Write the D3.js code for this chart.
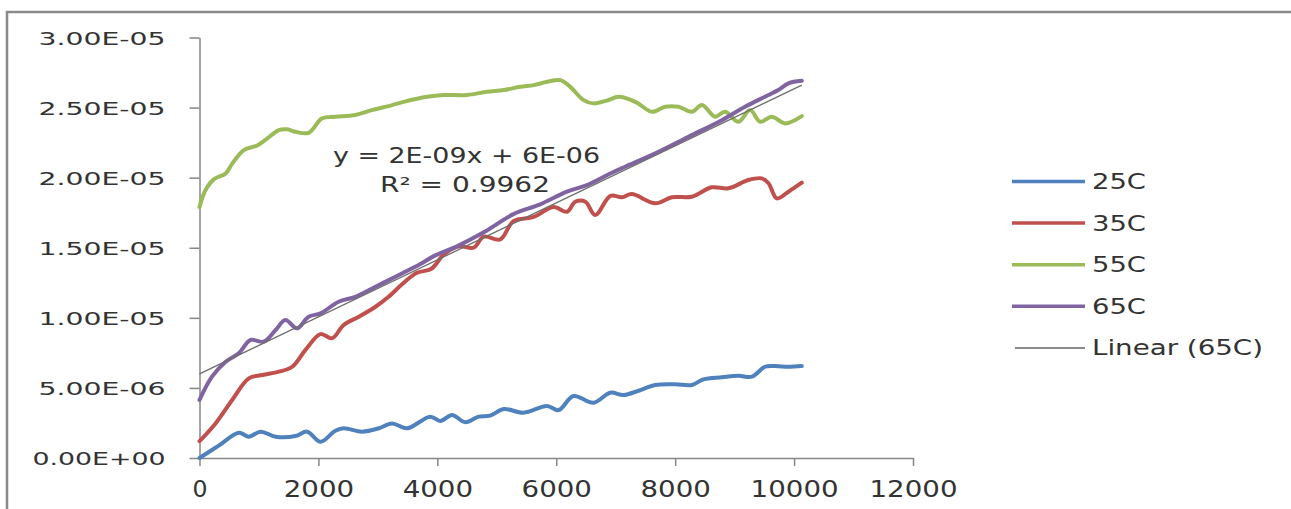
<html>
<head>
<script src="https://d3js.org/d3.v7.min.js"></script>
<style>
  body { margin: 0; background: #fff; }
  text { font-family: "DejaVu Sans", sans-serif; fill: #333; }
</style>
</head>
<body>
<svg width="1291" height="509"></svg>
<script>
var x25 = [0, 330, 660, 830, 1025, 1280, 1615, 1810, 2035, 2285, 2425, 2735, 3015, 3240, 3490, 3880, 4050, 4245, 4470, 4695, 4890, 5115, 5450, 5845, 6040, 6290, 6625, 6910, 7130, 7385, 7665, 8000, 8280, 8475, 8785, 9065, 9290, 9510, 9680, 9905, 10130];
var y25 = [0, 0.9e-6, 1.80e-6, 1.52e-6, 1.88e-6, 1.52e-6, 1.57e-6, 1.88e-6, 1.16e-6, 1.95e-6, 2.12e-6, 1.88e-6, 2.12e-6, 2.47e-6, 2.12e-6, 2.95e-6, 2.64e-6, 3.07e-6, 2.55e-6, 2.95e-6, 3.02e-6, 3.49e-6, 3.23e-6, 3.71e-6, 3.42e-6, 4.42e-6, 3.94e-6, 4.66e-6, 4.49e-6, 4.80e-6, 5.21e-6, 5.26e-6, 5.21e-6, 5.61e-6, 5.76e-6, 5.87e-6, 5.80e-6, 6.51e-6, 6.56e-6, 6.51e-6, 6.56e-6];

var x35 = [0, 270, 550, 830, 1055, 1335, 1560, 1780, 2035, 2230, 2425, 2680, 2960, 3180, 3435, 3650, 3900, 4105, 4360, 4610, 4780, 5060, 5280, 5620, 5955, 6180, 6320, 6490, 6655, 6910, 7105, 7270, 7665, 7945, 8280, 8615, 8895, 9230, 9455, 9570, 9710, 9905, 10130];
var y35 = [1.2e-6, 2.47e-6, 4.14e-6, 5.68e-6, 5.92e-6, 6.16e-6, 6.51e-6, 7.70e-6, 8.84e-6, 8.54e-6, 9.49e-6, 10.08e-6, 10.79e-6, 11.5e-6, 12.5e-6, 13.2e-6, 13.5e-6, 14.5e-6, 15.1e-6, 15.0e-6, 15.79e-6, 15.6e-6, 16.9e-6, 17.2e-6, 17.9e-6, 17.57e-6, 18.28e-6, 18.28e-6, 17.33e-6, 18.7e-6, 18.6e-6, 18.83e-6, 18.17e-6, 18.6e-6, 18.64e-6, 19.31e-6, 19.24e-6, 19.83e-6, 19.95e-6, 19.6e-6, 18.52e-6, 19.0e-6, 19.64e-6];

var x55 = [0, 100, 240, 440, 550, 745, 970, 1110, 1335, 1475, 1615, 1835, 2060, 2285, 2620, 2900, 3240, 3435, 3825, 4105, 4500, 4835, 5115, 5395, 5620, 5845, 6070, 6235, 6460, 6625, 6850, 7050, 7330, 7610, 7830, 8055, 8280, 8450, 8670, 8840, 9065, 9260, 9430, 9625, 9850, 10130];
var y55 = [17.9e-6, 19.1e-6, 19.88e-6, 20.3e-6, 21.0e-6, 21.97e-6, 22.3e-6, 22.7e-6, 23.4e-6, 23.45e-6, 23.27e-6, 23.2e-6, 24.23e-6, 24.35e-6, 24.47e-6, 24.82e-6, 25.18e-6, 25.41e-6, 25.77e-6, 25.9e-6, 25.9e-6, 26.13e-6, 26.25e-6, 26.48e-6, 26.6e-6, 26.84e-6, 26.96e-6, 26.48e-6, 25.53e-6, 25.3e-6, 25.5e-6, 25.77e-6, 25.41e-6, 24.7e-6, 25.06e-6, 25.06e-6, 24.7e-6, 25.18e-6, 24.35e-6, 24.7e-6, 23.99e-6, 24.82e-6, 23.99e-6, 24.35e-6, 23.87e-6, 24.39e-6];

var x65 = [0, 210, 440, 660, 860, 1080, 1280, 1445, 1640, 1835, 2035, 2340, 2620, 2960, 3295, 3460, 3700, 3940, 4330, 4780, 5280, 5730, 6180, 6515, 6910, 7160, 7665, 8225, 8785, 9175, 9510, 9735, 9905, 10130];
var y65 = [4.14e-6, 5.8e-6, 6.87e-6, 7.47e-6, 8.42e-6, 8.3e-6, 9.13e-6, 9.84e-6, 9.25e-6, 10.08e-6, 10.32e-6, 11.15e-6, 11.5e-6, 12.22e-6, 12.93e-6, 13.29e-6, 13.8e-6, 14.4e-6, 15.1e-6, 16.1e-6, 17.4e-6, 18.1e-6, 19.0e-6, 19.47e-6, 20.3e-6, 20.78e-6, 21.73e-6, 22.92e-6, 24.1e-6, 25.06e-6, 25.77e-6, 26.25e-6, 26.73e-6, 26.91e-6];

var trendX = [0, 10130];
var trendY = [6.0e-6, 26.6e-6];

var seriesNames = ["25C", "35C", "55C", "65C"];
var seriesColors = ["#4F81BD", "#C0504D", "#9BBB59", "#8064A2"];
var trendName = "Linear (65C)";
var equationLines = ["y = 2E-09x + 6E-06", "R\u00B2 = 0.9962"];

var xTicks = [0, 2000, 4000, 6000, 8000, 10000, 12000];
var yTicks = [0, 5e-6, 10e-6, 15e-6, 20e-6, 25e-6, 30e-6];
var yTickLabels = ["0.00E+00", "5.00E-06", "1.00E-05", "1.50E-05", "2.00E-05", "2.50E-05", "3.00E-05"];

var svg = d3.select("svg");

// outer frame
svg.append("rect")
   .attr("x", 7).attr("y", 12)
   .attr("width", 1400).attr("height", 600)
   .attr("fill", "none")
   .attr("stroke", "#8a8a8a")
   .attr("stroke-width", 2.5);

var xScale = d3.scaleLinear().domain([0, 12000]).range([199.5, 913]);
var yScale = d3.scaleLinear().domain([0, 30e-6]).range([458, 37.5]);

// y axis
var gy = svg.append("g")
    .attr("transform", "translate(199.5,0)")
    .call(d3.axisLeft(yScale).tickValues(yTicks)
          .tickFormat(function(d, i) { return yTickLabels[i]; })
          .tickSize(10).tickSizeOuter(0).tickPadding(24));
gy.selectAll("path, line").attr("stroke", "#868686").attr("stroke-width", 1.5);
gy.selectAll("text")
  .attr("font-size", 18.5)
  .attr("dy", "0.36em")
  .attr("textLength", function(d, i) { return i == 0 ? 133 : 127; })
  .attr("lengthAdjust", "spacingAndGlyphs")
  .style("fill", "#333");

// x axis
var gx = svg.append("g")
    .attr("transform", "translate(0,458)")
    .call(d3.axisBottom(xScale).tickValues(xTicks)
          .tickFormat(d3.format("d"))
          .tickSize(8).tickSizeOuter(0));
gx.selectAll("path, line").attr("stroke", "#868686").attr("stroke-width", 1.5);
gx.selectAll("text")
  .attr("font-size", 23)
  .attr("dy", null)
  .attr("y", 39)
  .attr("textLength", function(d) { var s = String(d); return s.length == 1 ? 15 : s.length * 17.6; })
  .attr("lengthAdjust", "spacingAndGlyphs")
  .style("fill", "#333");

var line = d3.line()
    .x(function(d) { return xScale(d[0]); })
    .y(function(d) { return yScale(d[1]); })
    .curve(d3.curveCatmullRom.alpha(0.5));

var allX = [x25, x35, x55, x65];
var allY = [y25, y35, y55, y65];

allX.forEach(function(xs, k) {
    var pts = xs.map(function(v, i) { return [v, allY[k][i]]; });
    svg.append("path")
       .datum(pts)
       .attr("d", line)
       .attr("fill", "none")
       .attr("stroke", seriesColors[k])
       .attr("stroke-width", 4)
       .attr("stroke-linejoin", "round")
       .attr("stroke-linecap", "round");
});

// linear trendline of 65C
svg.append("path")
   .datum(trendX.map(function(v, i) { return [v, trendY[i]]; }))
   .attr("d", d3.line().x(function(d) { return xScale(d[0]); }).y(function(d) { return yScale(d[1]); }))
   .attr("fill", "none")
   .attr("stroke", "#6e6e6e")
   .attr("stroke-width", 1.3);

// equation label
svg.append("text")
   .attr("x", 333).attr("y", 163)
   .attr("font-size", 20.5)
   .attr("textLength", 267).attr("lengthAdjust", "spacingAndGlyphs")
   .text(equationLines[0]);
svg.append("text")
   .attr("x", 380).attr("y", 191.5)
   .attr("font-size", 20.5)
   .attr("textLength", 170).attr("lengthAdjust", "spacingAndGlyphs")
   .text(equationLines[1]);

// legend
var legendNames = seriesNames.concat([trendName]);
var legendColors = seriesColors.concat(["#8c8c8c"]);
var lg = svg.append("g");
legendNames.forEach(function(name, i) {
    var ly = 181.5 + i * 41.6;
    lg.append("line")
      .attr("x1", i == 4 ? 1015 : 1012).attr("x2", 1085)
      .attr("y1", ly).attr("y2", ly)
      .attr("stroke", legendColors[i])
      .attr("stroke-width", i == 4 ? 2 : 3.5);
    lg.append("text")
      .attr("x", 1092).attr("y", ly + 7.5)
      .attr("font-size", 20.5)
      .attr("textLength", i == 4 ? 171 : 54)
      .attr("lengthAdjust", "spacingAndGlyphs")
      .text(name);
});
</script>
</body>
</html>
